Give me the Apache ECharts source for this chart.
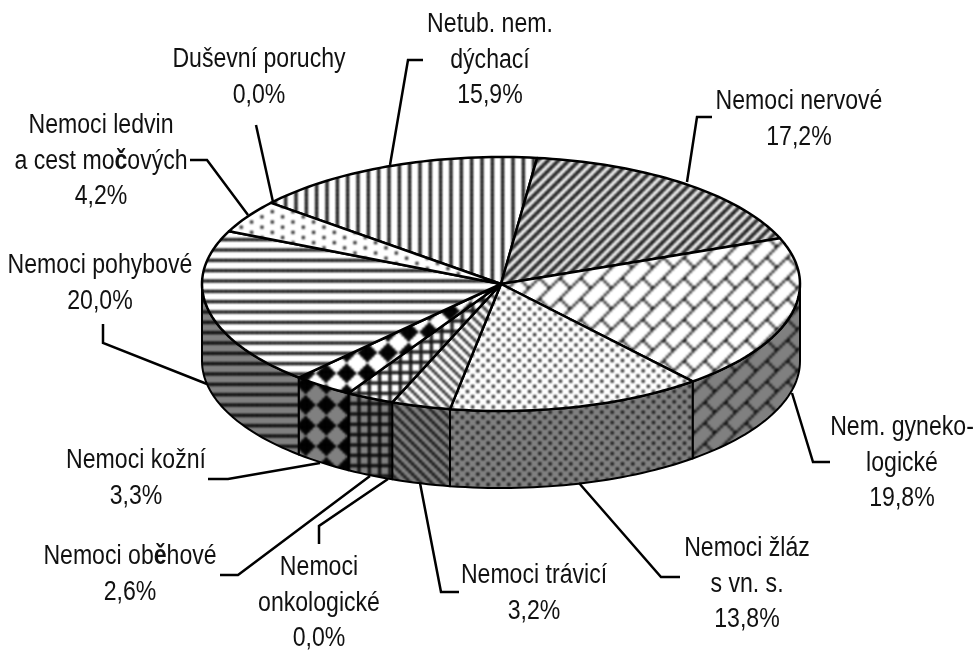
<!DOCTYPE html>
<html><head><meta charset="utf-8">
<style>html,body{margin:0;padding:0;background:#fff}#c{width:980px;height:651px}</style>
<script src="https://cdn.jsdelivr.net/npm/echarts@6/dist/echarts.min.js"></script>
</head><body><div id="c"></div>
<script>
// ---- data (clockwise, starting at "Netub. nem. dýchací")
const names = ['Netub. nem.\ndýchací','Nemoci nervové','Nem. gyneko-\nlogické','Nemoci žláz\ns vn. s.','Nemoci trávicí','Nemoci\nonkologické','Nemoci ob{b|ě}hové','Nemoci kožní','Nemoci pohybové','Nemoci ledvin\na cest mo{b|č}ových','Duševní poruchy'];
const values = [15.9,17.2,19.8,13.8,3.2,0.0,2.6,3.3,20.0,4.2,0.0];
const percentLabels = ['15,9%','17,2%','19,8%','13,8%','3,2%','0,0%','2,6%','3,3%','20,0%','4,2%','0,0%'];

// ---- layout, separate from the data
const CX=501, CY=284, RX=299, RY=127, DEPTH=77, START=-50.3;
const labelPos = [[490,25],[799,102],[902,428],[747,549],[534,576],[319,568],[130,557],[136,461],[100,266],[101,126],[259,60]];
const LH = 35.5;
const leaders = [
 [[423,60],[408,60],[390,165]],
 [[712,117],[697,117],[687,182]],
 [[792,393],[813,462],[830,462]],
 [[579,483],[661,577],[680,577]],
 [[459,592],[441,592],[420,483]],
 [[319,544],[319,526],[388,479]],
 [[220,575],[238,575],[370,476]],
 [[208,479],[228,479],[320,463]],
 [[103,324],[103,343],[207,384]],
 [[190,160],[207,160],[248,215]],
 [[256,125],[273,202]]
];

// ---- hatch bitmaps, 8x8 pattern pixels enlarged like the original
const S=62/24, T=62;
function hatch(rows, ref, cell){
  const big=document.createElement('canvas'); big.width=big.height=T*3;
  const g=big.getContext('2d'); g.fillStyle='#000';
  const t8=8*S;
  const ox=ref[0]-(cell[0]+.5)*S, oy=ref[1]-(cell[1]+.5)*S;
  const mx=((ox%t8)+t8)%t8, my=((oy%t8)+t8)%t8;
  for(let a=-1;a<=11;a++)for(let b=-1;b<=11;b++)for(let j=0;j<8;j++)for(let i=0;i<8;i++){
    if(rows[j]&(0x80>>i)) g.fillRect(mx+(a*8+i)*S, my+(b*8+j)*S, S, S);
  }
  return big;
}
function tile(big,bg,extra){
  const c=document.createElement('canvas'); c.width=c.height=T;
  const g=c.getContext('2d'); g.fillStyle=bg; g.fillRect(0,0,T,T);
  g.filter='blur(0.85px)';
  g.drawImage(big,-T,-T);
  if(extra){ g.globalAlpha=extra; g.drawImage(big,-T,-T); }
  return {image:c,repeat:'repeat'};
}
const R4=a=>a.concat(a);
const defs=[
 {rows:R4([0x88,0x88,0x88,0x88]),ref:[296,0],cell:[0,0],d:0.4},
 {rows:R4([0x33,0x66,0xCC,0x99]),ref:[600,190],cell:[2,0],d:0},
 {rows:[0x01,0x02,0x04,0x08,0x18,0x24,0x42,0x81],ref:[662,300],cell:[3,4],d:0},
 {rows:R4([0x88,0x00,0x22,0x00]),ref:[514,345],cell:[0,0],d:0.4},
 {rows:R4([0x88,0x44,0x22,0x11]),ref:[410,420],cell:[0,0],d:0.4},
 {rows:R4([0x88,0x44,0x22,0x11]),ref:[410,420],cell:[0,0],d:0.4},
 {rows:[0xFF,0x88,0x88,0x88,0xFF,0x88,0x88,0x88],ref:[359,445],cell:[0,0],d:0.4},
 {rows:[0x10,0x38,0x7C,0xFE,0x7C,0x38,0x10,0x00],ref:[326,373.3],cell:[3,3],wallRef:[305.7,405],d:1},
 {rows:R4([0xFF,0x00,0x00,0x00]),ref:[0,250],cell:[0,0],d:0.4},
 {rows:R4([0x80,0x00,0x08,0x00]),ref:[272.3,211.7],cell:[0,0],d:0.4},
 {rows:R4([0x88,0x88,0x88,0x88]),ref:[296,0],cell:[0,0],d:0.4}
];
const fills=defs.map(d=>({
  top:tile(hatch(d.rows,d.ref,d.cell),'#fff',d.d),
  wall:tile(hatch(d.rows,d.wallRef||d.ref,d.cell),'#808080',d.d)
}));

// ---- slice angles come from the values
const total=values.reduce((a,b)=>a+b,0);
const angles=[]; { let a=START; values.forEach(v=>{const s=a; a+=v/total*360; angles.push([s,a]);}); }
const pt=(deg,dy)=>{const r=deg*Math.PI/180; return [CX+RX*Math.sin(r), CY-RY*Math.cos(r)+(dy||0)];};
function arc(a,b,dy){const n=Math.max(2,Math.ceil(Math.abs(b-a)/1.5)),o=[];for(let i=0;i<=n;i++)o.push(pt(a+(b-a)*i/n,dy));return o;}

const chart=echarts.init(document.getElementById('c'),null,{renderer:'canvas'});
const dataRows=values.map(v=>[v]);
const FONT='"Liberation Sans","Arimo",Arial', FS=27, SX=0.855;
chart.setOption({
  animation:false,
  backgroundColor:'#fff',
  series:[
  {type:'custom',coordinateSystem:'none',silent:true,data:dataRows,z:1,
   renderItem(p,api){
     const i=p.dataIndex,[s,e]=angles[i];
     const v=api.value(0);
     const a=Math.max(s,90),b=Math.min(e,270);
     if(v<=0||b<=a) return {type:'group',children:[]};
     const pts=arc(a,b,0).concat(arc(b,a,DEPTH));
     return {type:'polygon',shape:{points:pts},style:{fill:fills[i].wall,stroke:'#000',lineWidth:2,lineJoin:'round'}};
   }},
  {type:'custom',coordinateSystem:'none',silent:true,data:dataRows,z:2,
   renderItem(p,api){
     const i=p.dataIndex,[s,e]=angles[i];
     const v=api.value(0);
     if(v<=0) return {type:'group',children:[]};
     const pts=[[CX,CY]].concat(arc(s,e,0));
     return {type:'polygon',shape:{points:pts},style:{fill:fills[i].top,stroke:'#000',lineWidth:2.5,lineJoin:'round'}};
   }},
  {type:'custom',coordinateSystem:'none',silent:true,data:dataRows,z:3,
   renderItem(p,api){
     const i=p.dataIndex;
     const lines=names[i].split('\n').concat([percentLabels[i]]);
     const ch=[{type:'polyline',shape:{points:leaders[i]},style:{fill:'none',stroke:'#000',lineWidth:2.5,lineJoin:'miter'}}];
     lines.forEach((t,k)=>ch.push({type:'text',x:labelPos[i][0],y:labelPos[i][1]+k*LH,scaleX:SX,
       style:{text:t,fill:'#111',fontFamily:FONT,fontSize:FS,align:'center',verticalAlign:'middle',
         rich:{b:{fontWeight:'bold',fill:'#111',fontFamily:FONT,fontSize:FS}}}}));
     return {type:'group',children:ch};
   }}
  ]
});
</script></body></html>
